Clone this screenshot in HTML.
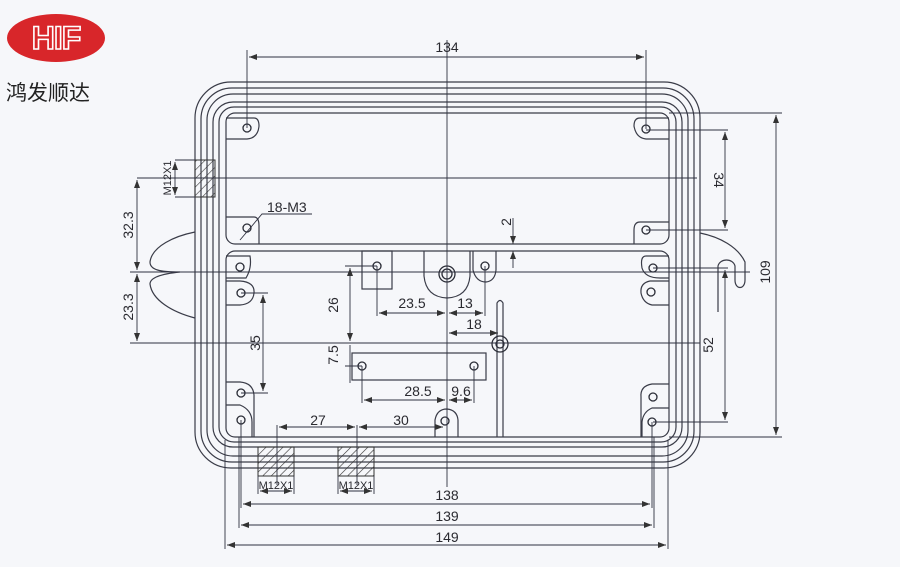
<!DOCTYPE html>
<html><head><meta charset="utf-8"><style>
html,body{margin:0;padding:0;background:#f6f7fa;}
svg{display:block}
text{font-family:"Liberation Sans",sans-serif;fill:#2a2a30;font-size:14px}
</style></head><body>
<svg width="900" height="567" viewBox="0 0 900 567" xmlns="http://www.w3.org/2000/svg">
<defs>
<pattern id="h" width="6" height="6" patternUnits="userSpaceOnUse" patternTransform="rotate(45)">
<line x1="0" y1="0" x2="0" y2="6" stroke="#333" stroke-width="1.2"/></pattern>
<marker id="a" markerWidth="8" markerHeight="6" refX="8" refY="3" orient="auto-start-reverse" markerUnits="userSpaceOnUse"><path d="M0,0 L8,3 L0,6z" fill="#333"/></marker>
</defs>
<rect width="900" height="567" fill="#f6f7fa"/>
<!-- logo -->
<ellipse cx="56" cy="38" rx="49" ry="24" fill="#d8262a"/>
<text x="56" y="49" text-anchor="middle" style="font-size:32px;font-weight:bold;fill:#d8262a;stroke:#fff;stroke-width:1.6;letter-spacing:-1px">HIF</text>
<text x="6" y="100" style="font-family:'Liberation Sans','Noto Sans CJK SC',sans-serif;font-size:21px;fill:#222">鸿发顺达</text>

<g fill="none" stroke="#3a3c48" stroke-width="1.2">
<!-- outer shells -->
<rect x="195" y="82" width="505" height="386" rx="36"/>
<rect x="201" y="88" width="493" height="374" rx="31"/>
<rect x="207" y="94" width="481" height="362" rx="26"/>
<rect x="213" y="102" width="469" height="345" rx="20"/>
<rect x="219" y="107" width="457" height="335" rx="15"/>
<!-- compartments -->
<rect x="226" y="113" width="443" height="131" rx="9"/>
<rect x="226" y="251" width="443" height="186" rx="9"/>
<!-- hooks -->
<path d="M195,232 C175,236 152,246 150,262 C150,270 160,272 180,272 C160,274 150,278 150,284 C152,300 172,312 195,318"/>
<path d="M700,233 C720,237 738,247 745,262 L745,280 C745,290 735,290 735,280 L735,266 C733,258 720,258 718,266 L718,312"/>
<!-- bosses -->
<path d="M226,118 L254,118 Q259,118 259,126 Q258,138 247,139 L226,139"/>
<path d="M226,217 L254,217 Q259,217 259,226 L259,244"/>
<path d="M669,118 L640,118 Q634,118 634,126 Q636,138 646,139 L669,139"/>
<path d="M669,222 L640,222 Q634,222 634,230 L634,244"/>
<path d="M226,256 L250,256 Q252,268 246,278 L226,278"/>
<path d="M226,281 L240,281 Q255,282 254,293 Q253,304 240,305 L226,305"/>
<path d="M226,382 L240,382 Q253,383 254,395 L254,437"/>
<path d="M226,405 L240,405 Q252,410 252,422 L252,437"/>
<path d="M669,256 L646,256 Q640,256 642,268 Q645,278 660,278 L669,278"/>
<path d="M669,281 L650,281 Q640,283 641,293 Q643,303 652,305 L669,305"/>
<path d="M669,384 L652,384 Q640,386 641,397 L641,437"/>
<path d="M669,408 L652,408 Q643,412 642,422 L642,437"/>
<path d="M473,251 L473,270 Q476,282 486,282 Q495,281 496,270 L496,251"/>
<path d="M424,251 L424,276 Q426,297 447,298 Q468,297 470,276 L470,251"/>
<rect x="362" y="251" width="30" height="38"/>
<path d="M435,437 L435,420 Q437,409 447,409 Q457,410 458,420 L458,437"/>
<path d="M497,437 L497,303 Q500,298 503,303 L503,437"/>
<rect x="352" y="353" width="134" height="27"/>
</g>
<!-- holes -->
<g fill="none" stroke="#2a2c36" stroke-width="1.3">
<circle cx="247" cy="128" r="4"/><circle cx="247" cy="228" r="4"/>
<circle cx="646" cy="129" r="4"/><circle cx="646" cy="230" r="4"/>
<circle cx="240" cy="267" r="4"/><circle cx="241" cy="293" r="4"/>
<circle cx="241" cy="393" r="4"/><circle cx="241" cy="420" r="4"/>
<circle cx="653" cy="268" r="4"/><circle cx="651" cy="292" r="4"/>
<circle cx="653" cy="397" r="4"/><circle cx="652" cy="422" r="4"/>
<circle cx="377" cy="266" r="4"/><circle cx="485" cy="266" r="4"/>
<circle cx="447" cy="274" r="8"/><circle cx="447" cy="274" r="5"/>
<circle cx="500" cy="344" r="8"/><circle cx="500" cy="344" r="4"/>
<circle cx="362" cy="366" r="4"/><circle cx="474" cy="366" r="4"/>
<circle cx="445" cy="421" r="4"/>
</g>
<!-- hatches -->
<g stroke="#333" stroke-width="1">
<rect x="195" y="160" width="20" height="37" fill="url(#h)"/>
<rect x="258" y="447" width="36" height="29" fill="url(#h)"/>
<rect x="338" y="447" width="36" height="29" fill="url(#h)"/>
</g>
<!-- dimension lines -->
<g stroke="#2f3140" stroke-width="0.9" fill="none">
<line x1="447" y1="40" x2="447" y2="487"/>
<line x1="247" y1="50" x2="247" y2="128"/><line x1="646" y1="50" x2="646" y2="129"/>
<line x1="249" y1="57" x2="644" y2="57" marker-start="url(#a)" marker-end="url(#a)"/>
<line x1="669" y1="113" x2="782" y2="113"/><line x1="669" y1="437" x2="782" y2="437"/>
<line x1="776" y1="115" x2="776" y2="435" marker-start="url(#a)" marker-end="url(#a)"/>
<line x1="646" y1="130" x2="728" y2="130"/><line x1="646" y1="230" x2="728" y2="230"/>
<line x1="725" y1="132" x2="725" y2="228" marker-start="url(#a)" marker-end="url(#a)"/>
<line x1="653" y1="268" x2="728" y2="268"/><line x1="653" y1="422" x2="728" y2="422"/>
<line x1="725" y1="270" x2="725" y2="420" marker-start="url(#a)" marker-end="url(#a)"/>
<line x1="513" y1="218" x2="513" y2="244" marker-end="url(#a)"/>
<line x1="513" y1="268" x2="513" y2="251" marker-end="url(#a)"/>
<line x1="137" y1="178" x2="697" y2="178"/>
<line x1="130" y1="272" x2="750" y2="272"/>
<line x1="130" y1="343" x2="700" y2="343"/>
<line x1="137" y1="180" x2="137" y2="270" marker-start="url(#a)" marker-end="url(#a)"/>
<line x1="137" y1="274" x2="137" y2="341" marker-start="url(#a)" marker-end="url(#a)"/>
<line x1="175" y1="160" x2="195" y2="160"/><line x1="175" y1="197" x2="195" y2="197"/>
<line x1="175" y1="162" x2="175" y2="195" marker-start="url(#a)" marker-end="url(#a)"/>
<line x1="241" y1="293" x2="268" y2="293"/><line x1="241" y1="393" x2="268" y2="393"/>
<line x1="263" y1="295" x2="263" y2="391" marker-start="url(#a)" marker-end="url(#a)"/>
<line x1="345" y1="266" x2="377" y2="266"/>
<line x1="350" y1="268" x2="350" y2="341" marker-start="url(#a)" marker-end="url(#a)"/>
<line x1="350" y1="345" x2="350" y2="383"/><line x1="345" y1="366" x2="362" y2="366"/>
<line x1="377" y1="266" x2="377" y2="316"/><line x1="485" y1="266" x2="485" y2="316"/>
<line x1="379" y1="313" x2="445" y2="313" marker-start="url(#a)" marker-end="url(#a)"/>
<line x1="449" y1="313" x2="483" y2="313" marker-start="url(#a)" marker-end="url(#a)"/>
<line x1="449" y1="333" x2="498" y2="333" marker-start="url(#a)" marker-end="url(#a)"/>
<line x1="362" y1="366" x2="362" y2="403"/><line x1="474" y1="366" x2="474" y2="403"/>
<line x1="364" y1="400" x2="445" y2="400" marker-start="url(#a)" marker-end="url(#a)"/>
<line x1="449" y1="400" x2="472" y2="400" marker-start="url(#a)" marker-end="url(#a)"/>
<line x1="277" y1="425" x2="277" y2="485"/><line x1="357" y1="425" x2="357" y2="485"/>
<line x1="279" y1="427" x2="355" y2="427" marker-start="url(#a)" marker-end="url(#a)"/>
<line x1="359" y1="427" x2="443" y2="427" marker-start="url(#a)" marker-end="url(#a)"/>
<line x1="258" y1="476" x2="258" y2="494"/><line x1="294" y1="476" x2="294" y2="494"/>
<line x1="338" y1="476" x2="338" y2="494"/><line x1="374" y1="476" x2="374" y2="494"/>
<line x1="260" y1="491" x2="292" y2="491" marker-start="url(#a)" marker-end="url(#a)"/>
<line x1="340" y1="491" x2="372" y2="491" marker-start="url(#a)" marker-end="url(#a)"/>
<line x1="241" y1="420" x2="241" y2="508"/><line x1="652" y1="422" x2="652" y2="508"/>
<line x1="239" y1="437" x2="239" y2="528"/><line x1="654" y1="437" x2="654" y2="528"/>
<line x1="225" y1="440" x2="225" y2="549"/><line x1="668" y1="440" x2="668" y2="549"/>
<line x1="243" y1="504" x2="650" y2="504" marker-start="url(#a)" marker-end="url(#a)"/>
<line x1="241" y1="525" x2="652" y2="525" marker-start="url(#a)" marker-end="url(#a)"/>
<line x1="227" y1="545" x2="666" y2="545" marker-start="url(#a)" marker-end="url(#a)"/>
<polyline points="240,240 262,214 312,214"/>
</g>
<!-- labels -->
<text x="447" y="52" text-anchor="middle">134</text>
<text x="267" y="212">18-M3</text>
<text x="447" y="500" text-anchor="middle">138</text>
<text x="447" y="521" text-anchor="middle">139</text>
<text x="447" y="542" text-anchor="middle">149</text>
<text x="412" y="308" text-anchor="middle">23.5</text>
<text x="465" y="308" text-anchor="middle">13</text>
<text x="474" y="329" text-anchor="middle">18</text>
<text x="418" y="396" text-anchor="middle">28.5</text>
<text x="461" y="396" text-anchor="middle">9.6</text>
<text x="318" y="425" text-anchor="middle">27</text>
<text x="401" y="425" text-anchor="middle">30</text>
<text x="276" y="489" text-anchor="middle" style="font-size:11px">M12X1</text>
<text x="356" y="489" text-anchor="middle" style="font-size:11px">M12X1</text>
<text transform="translate(171,178) rotate(-90)" text-anchor="middle" style="font-size:11px">M12X1</text>
<text transform="translate(133,225) rotate(-90)" text-anchor="middle">32.3</text>
<text transform="translate(133,307) rotate(-90)" text-anchor="middle">23.3</text>
<text transform="translate(260,343) rotate(-90)" text-anchor="middle">35</text>
<text transform="translate(338,305) rotate(-90)" text-anchor="middle">26</text>
<text transform="translate(338,355) rotate(-90)" text-anchor="middle">7.5</text>
<text transform="translate(511,222) rotate(-90)" text-anchor="middle">2</text>
<text transform="translate(714,180) rotate(90)" text-anchor="middle">34</text>
<text transform="translate(713,345) rotate(-90)" text-anchor="middle">52</text>
<text transform="translate(770,272) rotate(-90)" text-anchor="middle">109</text>
</svg>
</body></html>
